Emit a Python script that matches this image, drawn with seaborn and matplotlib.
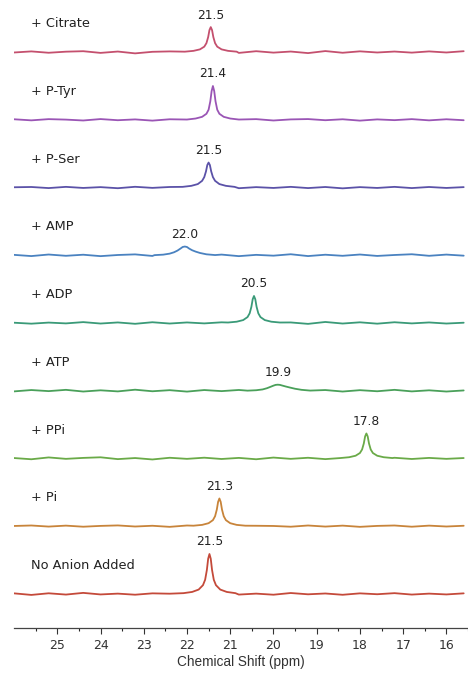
import pandas as pd
import matplotlib.pyplot as plt
import seaborn as sns

# -----------------------------------
# Data
# -----------------------------------

samples = ["No Anion Added", "+ Pi", "+ PPi", "+ ATP", "+ ADP",
           "+ AMP", "+ P-Ser", "+ P-Tyr", "+ Citrate"]

peak_labels = ["21.5", "21.3", "17.8", "19.9", "20.5",
               "22.0", "21.5", "21.4", "21.5"]

colors = ["#c44a3a", "#c8843a", "#6aaa48", "#4aa05a", "#3a9a78",
          "#4a82c0", "#5b52a8", "#9a55b5", "#c4506e"]

# baseline grid (ppm) and small baseline wobble per spectrum
base_ppm = [26.0, 25.6, 25.2, 24.8, 24.4, 24.0, 23.6, 23.2, 22.8,
            22.4, 22.0, 21.6, 21.2, 20.8, 20.4, 20.0, 19.6, 19.2,
            18.8, 18.4, 18.0, 17.6, 17.2, 16.8, 16.4, 16.0, 15.6]

base_noanion = [0.9, -1.4, 1.0, -0.9, 1.6, -0.7, 0.5, -1.1, 0.9, 0.4, 1.8, 0.7,
                1.0, -0.9, 0.5, -1.1, 1.4, -0.5, 0.7, -1.2, 0.9, -0.4, 1.2, -0.9, 0.5, -0.7, 0.9]
base_pi = [0.4, 1.1, -0.5, 0.9, -0.7, 0.5, 1.2, -0.4, 0.7, -0.9, 1.1, 0.5,
           0.9, -1.1, 0.7, 0.4, -0.7, 1.1, -0.5, 0.9, -0.9, 0.5, 1.1, -0.7, 0.9, -0.4, 0.7]
base_ppi = [0.7, -1.1, 1.6, -0.5, 0.9, 1.8, -0.9, 0.7, -1.4, 1.1, -0.5, 1.2,
            -0.7, 0.9, -1.1, 1.4, -0.5, 1.1, -0.9, 0.7, 0.4, -0.9, 1.1, -0.7, 0.9, -0.5, 0.7]
base_atp = [-0.9, 1.1, -0.5, 1.4, -1.1, 0.7, -0.9, 1.6, -0.7, 0.9, -1.2, 1.1,
            -0.5, 1.2, -0.9, 0.7, -1.6, -0.5, 1.1, -1.1, 0.9, -0.7, 1.4, -0.9, 0.7, -1.1, 0.5]
base_adp = [0.5, -0.9, 0.7, -0.5, 1.4, -0.7, 0.9, -1.1, 1.2, -0.7, 0.9, -0.5,
            1.1, -0.4, 0.7, -1.1, 0.9, -1.2, 1.6, -0.7, 1.1, -0.9, 1.2, -0.5, 0.9, -0.7, 0.5]
base_amp = [0.7, -1.1, 1.2, -0.7, 0.9, -1.2, 0.5, 1.4, -0.9, 0.5, 0.7, -0.9,
            1.1, -1.2, 0.7, -0.5, 1.6, -1.1, 0.9, -0.7, 1.2, -0.9, 0.5, 1.6, -0.7, 1.1, -0.5]
base_pser = [0.5, 0.9, -0.7, 1.1, -0.5, 0.7, -0.9, 1.2, -0.4, 0.9, 1.1, 0.7,
             0.5, -0.9, 0.7, -0.5, 1.1, -0.7, 0.9, -1.1, 0.7, -0.5, 1.1, -0.7, 0.9, -0.5, 0.7]
base_ptyr = [0.9, -0.7, 1.1, 0.4, -0.9, 1.2, -0.5, 0.7, -1.1, 0.9, 0.5, 1.4,
             0.9, -0.7, 1.1, -0.9, 0.7, 1.2, -0.5, 0.9, -1.1, 0.7, -0.4, 1.1, -0.7, 0.9, -0.5]
base_citrate = [-0.5, 1.1, -0.9, 0.7, 1.4, -1.1, 0.9, -1.8, 0.5, 1.1, 1.6, 1.1,
                0.7, -1.1, 1.4, -0.7, 0.9, -1.4, 1.6, -0.9, 1.2, -0.5, 0.9, -0.7, 1.1, -0.5, 1.4]

# peak points per spectrum (ppm, intensity)
peak_ppm_noanion = [22.08, 21.88, 21.73, 21.63, 21.58, 21.54, 21.51, 21.48,
                    21.45, 21.42, 21.38, 21.33, 21.23, 21.08, 20.88]
peak_int_noanion = [1.2, 3.0, 6.5, 13.0, 21.0, 35.4, 52.0, 59.0,
                    52.0, 35.4, 21.0, 13.0, 6.5, 3.0, 1.2]
peak_ppm_pi = [21.85, 21.65, 21.5, 21.4, 21.35, 21.31, 21.28, 21.25,
               21.22, 21.19, 21.15, 21.1, 21.0, 20.85, 20.65]
peak_int_pi = [0.8, 2.0, 4.5, 9.0, 14.8, 24.6, 36.0, 41.0,
               36.0, 24.6, 14.8, 9.0, 4.5, 2.0, 0.8]
peak_ppm_ppi = [18.45, 18.25, 18.1, 18.0, 17.95, 17.91, 17.88, 17.85,
                17.82, 17.79, 17.75, 17.7, 17.6, 17.45, 17.25]
peak_int_ppi = [0.7, 1.9, 4.1, 8.1, 13.3, 22.2, 32.6, 37.0,
                32.6, 22.2, 13.3, 8.1, 4.1, 1.9, 0.7]
peak_ppm_atp = [20.6, 20.4, 20.25, 20.15, 20.07, 20.0, 19.95, 19.9,
                19.85, 19.8, 19.72, 19.62, 19.5, 19.35, 19.15]
peak_int_atp = [0.2, 0.8, 2.0, 3.8, 5.8, 7.6, 8.7, 9.0,
                8.7, 7.8, 6.4, 4.8, 3.0, 1.4, 0.3]
peak_ppm_adp = [21.05, 20.85, 20.7, 20.6, 20.55, 20.51, 20.48, 20.45,
                20.42, 20.39, 20.35, 20.3, 20.2, 20.05, 19.85]
peak_int_adp = [0.8, 2.0, 4.4, 8.8, 14.4, 24.0, 35.2, 40.0,
                35.2, 24.0, 14.4, 8.8, 4.4, 2.0, 0.8]
peak_ppm_amp = [22.75, 22.55, 22.4, 22.3, 22.22, 22.15, 22.1, 22.05,
                22.0, 21.95, 21.88, 21.8, 21.7, 21.55, 21.35]
peak_int_amp = [0.3, 1.0, 2.5, 4.5, 7.0, 10.0, 12.3, 13.0,
                12.3, 10.0, 7.5, 5.5, 3.5, 1.5, 0.4]
peak_ppm_pser = [22.1, 21.9, 21.75, 21.65, 21.6, 21.56, 21.53, 21.5,
                 21.47, 21.44, 21.4, 21.35, 21.25, 21.1, 20.9]
peak_int_pser = [1.1, 2.6, 5.2, 10.0, 15.5, 24.0, 33.3, 37.0,
                 33.3, 24.0, 15.5, 10.0, 5.2, 2.6, 1.1]
peak_ppm_ptyr = [22.0, 21.8, 21.65, 21.55, 21.5, 21.46, 21.43, 21.4,
                 21.37, 21.34, 21.3, 21.25, 21.15, 21.0, 20.8]
peak_int_ptyr = [0.5, 2.0, 4.5, 9.0, 15.0, 27.5, 42.5, 50.0,
                 42.5, 27.5, 15.0, 9.0, 4.5, 2.0, 0.5]
peak_ppm_citrate = [22.05, 21.85, 21.7, 21.6, 21.55, 21.51, 21.48, 21.45,
                    21.42, 21.39, 21.35, 21.3, 21.2, 21.05, 20.85]
peak_int_citrate = [0.7, 1.9, 4.1, 8.1, 13.3, 22.2, 32.6, 37.0,
                    32.6, 22.2, 13.3, 8.1, 4.1, 1.9, 0.7]

baselines = [base_noanion, base_pi, base_ppi, base_atp, base_adp,
             base_amp, base_pser, base_ptyr, base_citrate]
peak_ppms = [peak_ppm_noanion, peak_ppm_pi, peak_ppm_ppi, peak_ppm_atp, peak_ppm_adp,
             peak_ppm_amp, peak_ppm_pser, peak_ppm_ptyr, peak_ppm_citrate]
peak_ints = [peak_int_noanion, peak_int_pi, peak_int_ppi, peak_int_atp, peak_int_adp,
             peak_int_amp, peak_int_pser, peak_int_ptyr, peak_int_citrate]

offset_step = 100

# -----------------------------------
# Build long-form table
# -----------------------------------

rows = []
for i, name in enumerate(samples):
    lo, hi = min(peak_ppms[i]), max(peak_ppms[i])
    pts = [(p, v) for p, v in zip(base_ppm, baselines[i]) if not (lo <= p <= hi)]
    pts += list(zip(peak_ppms[i], peak_ints[i]))
    pts.sort(key=lambda t: -t[0])
    for p, v in pts:
        rows.append({"sample": name, "ppm": p, "intensity": v + i * offset_step})

df = pd.DataFrame(rows)

# -----------------------------------
# Plot
# -----------------------------------

sns.set_style("white")
plt.rcParams['font.family'] = ['DejaVu Sans']

fig = plt.figure(figsize=(4.68, 6.78), dpi=100)
ax = fig.add_axes([0.03, 0.074, 0.97, 0.926])

sns.lineplot(data=df, x="ppm", y="intensity", hue="sample", units="sample",
             estimator=None, sort=False, palette=dict(zip(samples, colors)),
             linewidth=1.3, legend=False, ax=ax)

for i, name in enumerate(samples):
    ax.text(25.6, i * offset_step + 42, name, fontsize=9.3,
            color="#222222", va="center", ha="left")
    top = max(peak_ints[i])
    px = peak_ppms[i][peak_ints[i].index(top)]
    ax.annotate(peak_labels[i], xy=(px, i * offset_step + top),
                xytext=(0, 4), textcoords="offset points",
                ha="center", va="bottom", fontsize=8.8, color="#222222")

ax.set_xlim(26.0, 15.5)
ax.set_ylim(-50, 877)

ax.set_xticks([25, 24, 23, 22, 21, 20, 19, 18, 17, 16])
ax.set_xticks([25.5, 24.5, 23.5, 22.5, 21.5, 20.5, 19.5, 18.5, 17.5, 16.5, 15.5],
              minor=True)
ax.set_yticks([])
ax.tick_params(axis="x", which="major", direction="out", length=4, width=0.8,
               labelsize=9, colors="#333333", pad=4, bottom=True)
ax.tick_params(axis="x", which="minor", direction="out", length=2.5, width=0.8,
               bottom=True)

ax.set_xlabel("Chemical Shift (ppm)", fontsize=9.8, family="Liberation Sans",
              color="#333333", labelpad=2)
ax.set_ylabel("")

sns.despine(ax=ax, left=True, top=True, right=True)
ax.spines["bottom"].set_color("#444444")
ax.spines["bottom"].set_linewidth(0.9)

fig.savefig("out.png", dpi=100)
plt.close(fig)
